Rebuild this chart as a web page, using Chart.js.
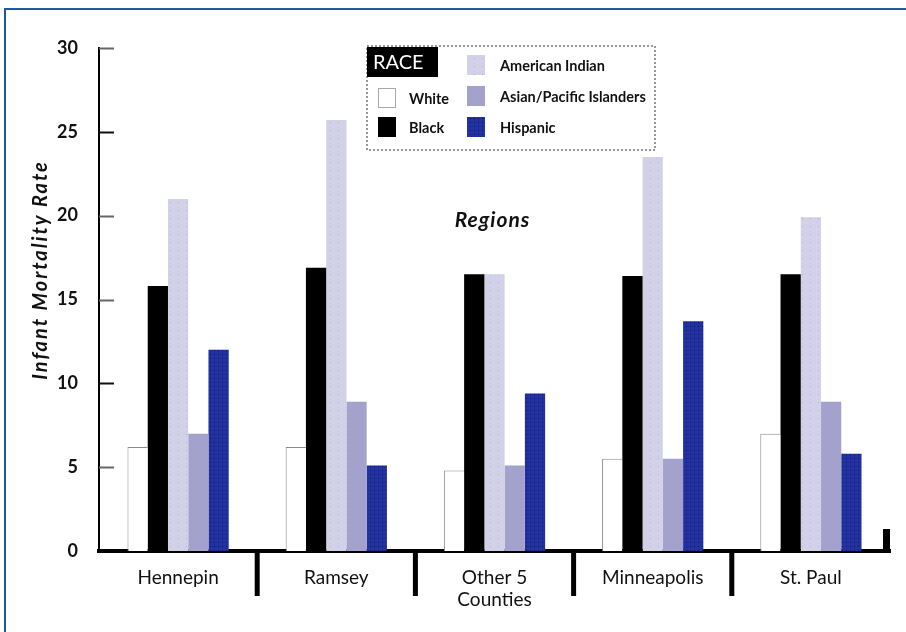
<!DOCTYPE html>
<html lang="en">
<head>
    <meta charset="UTF-8">
    <title>Infant Mortality Rate by Region and Race</title>
    <script src="https://cdn.jsdelivr.net/npm/chart.js@4.4.1/dist/chart.umd.min.js"></script>
    <style>
        body {
            margin: 0;
            padding: 0;
            background: #fff;
            overflow: hidden;
        }
        .wrap {
            position: relative;
            width: 906px;
            height: 632px;
        }
        .frame {
            position: absolute;
            left: 4px;
            top: 8px;
            right: 0;
            bottom: 0;
            border-top: 2px solid #1d5a9c;
            border-left: 2px solid #1d5a9c;
            pointer-events: none;
        }
    </style>
</head>
<body>
    <div class="wrap">
        <canvas id="grafica" width="906" height="632"></canvas>
        <div class="frame"></div>
    </div>

    <script>
        // Datos
        const regions = ['Hennepin', 'Ramsey', ['Other 5', 'Counties'], 'Minneapolis', 'St. Paul'];
        const white = [6.2, 6.2, 4.8, 5.5, 7.0];
        const black = [15.8, 16.9, 16.5, 16.4, 16.5];
        const americanIndian = [21.0, 25.7, 16.5, 23.5, 19.9];
        const asianPacific = [7.0, 8.9, 5.1, 5.5, 8.9];
        const hispanic = [12.0, 5.1, 9.4, 13.7, 5.8];
        const yTicks = [0, 5, 10, 15, 20, 25, 30];

        const FONT = 'Lato, "Open Sans", sans-serif';

        // patron de puntos para las barras
        function dotted(bg, dot, step) {
            const c = document.createElement('canvas');
            c.width = step;
            c.height = step;
            const g = c.getContext('2d');
            g.fillStyle = bg;
            g.fillRect(0, 0, step, step);
            g.fillStyle = dot;
            g.fillRect(2, 2, 1, 1);
            return g.createPattern(c, 'repeat');
        }

        const colAmInd = dotted('#d1d1e7', '#d79ae6', 8);
        const colAsian = dotted('#a2a2cd', '#b784d6', 8);
        const colHisp = dotted('#22319d', '#0b156e', 4);

        // ticks cortos hacia dentro, separadores y textos sueltos
        const decoraciones = {
            id: 'decoraciones',
            afterDraw(chart) {
                const ctx = chart.ctx;
                const area = chart.chartArea;
                const x = chart.scales.x;
                const y = chart.scales.y;
                ctx.save();

                // ticks del eje y
                ctx.lineWidth = 2;
                yTicks.forEach(v => {
                    if (v === 0) return;
                    const py = Math.round(y.getPixelForValue(v)) + 0.5;
                    ctx.strokeStyle = (v === 25 || v === 10) ? '#111' : '#666';
                    ctx.beginPath();
                    ctx.moveTo(area.left, py);
                    ctx.lineTo(area.left + 15, py);
                    ctx.stroke();
                });

                // separadores entre regiones
                ctx.fillStyle = '#000';
                for (let i = 1; i < regions.length; i++) {
                    const px = (x.getPixelForTick(i - 1) + x.getPixelForTick(i)) / 2;
                    ctx.fillRect(px - 2.5, area.bottom, 5, 45);
                }
                // remate del eje x
                ctx.fillRect(area.right - 7, area.bottom - 22, 7, 22);

                // titulo del eje y
                ctx.fillStyle = '#111';
                ctx.font = 'italic bold 20px ' + FONT;
                ctx.letterSpacing = '2px';
                ctx.textAlign = 'center';
                ctx.textBaseline = 'middle';
                ctx.translate(41, 270);
                ctx.rotate(-Math.PI / 2);
                ctx.fillText('Infant Mortality Rate', 0, 0);
                ctx.setTransform(1, 0, 0, 1, 0, 0);

                // texto "Regions"
                ctx.font = 'italic bold 21px ' + FONT;
                ctx.letterSpacing = '1px';
                ctx.fillText('Regions', x.getPixelForTick(2) - 2, y.getPixelForValue(19.7));
                ctx.letterSpacing = '0px';

                // leyenda
                const lx = 367, ly = 46, lw = 288, lh = 104;
                ctx.fillStyle = '#fff';
                ctx.fillRect(lx, ly, lw, lh);
                ctx.setLineDash([2, 2]);
                ctx.strokeStyle = '#777';
                ctx.lineWidth = 1.5;
                ctx.strokeRect(lx, ly, lw, lh);
                ctx.setLineDash([]);

                ctx.fillStyle = '#000';
                ctx.fillRect(lx, ly + 1, 71, 30);
                ctx.fillStyle = '#fff';
                ctx.font = '20px ' + FONT;
                ctx.textAlign = 'left';
                ctx.fillText('RACE', lx + 6, ly + 17);

                const pos = [
                    [378, 88], [378, 117],
                    [467, 55], [467, 86], [467, 117]
                ];
                ctx.font = 'bold 14.5px ' + FONT;
                chart.data.datasets.forEach((ds, i) => {
                    const [sx, sy] = pos[i];
                    ctx.fillStyle = ds.backgroundColor;
                    ctx.fillRect(sx, sy, 18, 20);
                    if (i === 0) {
                        ctx.setLineDash([1, 1]);
                        ctx.strokeStyle = '#555';
                        ctx.lineWidth = 1;
                        ctx.strokeRect(sx + 0.5, sy + 0.5, 17, 19);
                        ctx.setLineDash([]);
                    }
                    ctx.fillStyle = '#111';
                    ctx.fillText(ds.label, i < 2 ? sx + 31 : sx + 33, sy + 11);
                });

                ctx.restore();
            }
        };

        const grafica = new Chart(document.getElementById('grafica'), {
            type: 'bar',
            data: {
                labels: regions,
                datasets: [
                    { label: 'White', data: white, backgroundColor: '#ffffff', borderColor: '#8a8a8a', borderWidth: { top: 1, left: 1, right: 0, bottom: 0 } },
                    { label: 'Black', data: black, backgroundColor: '#000000' },
                    { label: 'American Indian', data: americanIndian, backgroundColor: colAmInd },
                    { label: 'Asian/Pacific Islanders', data: asianPacific, backgroundColor: colAsian },
                    { label: 'Hispanic', data: hispanic, backgroundColor: colHisp }
                ]
            },
            options: {
                responsive: false,
                animation: false,
                layout: { padding: { top: 48, right: 16, left: 0, bottom: 0 } },
                categoryPercentage: 0.64,
                barPercentage: 1.0,
                plugins: {
                    legend: { display: false },
                    tooltip: { enabled: false }
                },
                scales: {
                    x: {
                        grid: { display: false, drawTicks: false },
                        border: { color: '#000', width: 4 },
                        ticks: {
                            color: '#111',
                            padding: 15,
                            maxRotation: 0,
                            font: { family: FONT, size: 19 }
                        },
                        afterFit(scale) { scale.height = 81; }
                    },
                    y: {
                        min: 0,
                        max: 30,
                        grid: { display: false, drawTicks: false },
                        border: { color: '#000', width: 2 },
                        ticks: {
                            stepSize: 5,
                            color: '#111',
                            padding: 21,
                            font: { family: FONT, size: 18, weight: 'bold' }
                        },
                        afterFit(scale) { scale.width = 99; }
                    }
                }
            },
            plugins: [decoraciones]
        });
    </script>
</body>
</html>
